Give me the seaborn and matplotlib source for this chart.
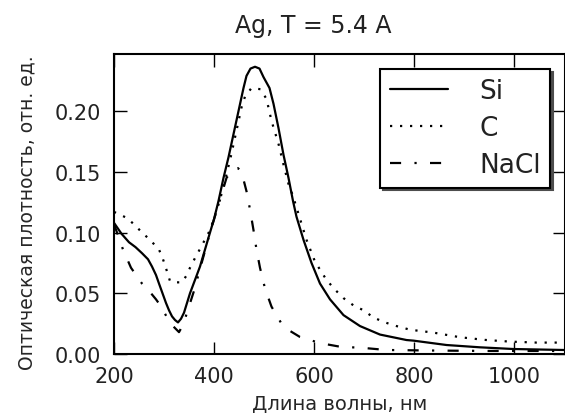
import matplotlib
matplotlib.use("Agg")
import pandas as pd
import matplotlib.pyplot as plt
import seaborn as sns

# absorption spectra (wavelength, nm / optical density)
wl_si = [200, 215, 230, 243, 256, 268, 276, 284, 290, 297, 304, 310, 316, 322,
         328, 334, 340, 346, 352, 362, 372, 382, 392, 400, 409, 419, 429, 439,
         449, 459, 465, 473, 482, 491, 499, 511, 519, 529, 539, 549, 558, 565,
         579, 595, 612, 632, 659, 692, 732, 785, 799, 865, 932, 999, 1100]
od_si = [0.108, 0.099, 0.092, 0.088, 0.083, 0.078, 0.072, 0.065, 0.058, 0.050,
         0.042, 0.036, 0.031, 0.028, 0.026, 0.029, 0.034, 0.042, 0.050, 0.061,
         0.072, 0.086, 0.100, 0.111, 0.126, 0.145, 0.162, 0.181, 0.200, 0.219,
         0.229, 0.235, 0.2365, 0.235, 0.228, 0.219, 0.206, 0.186, 0.164, 0.145,
         0.126, 0.113, 0.094, 0.075, 0.058, 0.045, 0.032, 0.023, 0.016, 0.0115,
         0.011, 0.0074, 0.0055, 0.0041, 0.0033]

wl_c = [200, 226, 242, 256, 272, 290, 298, 306, 312, 320, 336, 344, 352, 362,
        374, 392, 402, 412, 424, 435, 445, 455, 462, 475, 493, 505, 515, 529,
        539, 549, 558, 585, 602, 625, 642, 659, 679, 699, 719, 742, 765, 792,
        839, 892, 942, 992, 1045, 1100]
od_c = [0.117, 0.112, 0.106, 0.100, 0.094, 0.086, 0.078, 0.068, 0.060, 0.059,
        0.059, 0.064, 0.071, 0.079, 0.088, 0.102, 0.114, 0.127, 0.146, 0.165,
        0.184, 0.203, 0.212, 0.219, 0.218, 0.210, 0.192, 0.173, 0.156, 0.140,
        0.130, 0.094, 0.076, 0.061, 0.053, 0.046, 0.040, 0.036, 0.030, 0.026,
        0.023, 0.020, 0.0176, 0.0138, 0.0116, 0.0102, 0.0094, 0.0094]

wl_nacl = [200, 218, 234, 256, 270, 284, 296, 306, 318, 330, 338, 346, 360,
           372, 392, 412, 425, 438, 448, 455, 465, 472, 479, 485, 492, 502,
           515, 535, 552, 572, 612, 652, 699, 745, 850, 950, 1100]
od_nacl = [0.107, 0.086, 0.071, 0.058, 0.052, 0.045, 0.038, 0.030, 0.023,
           0.018, 0.024, 0.034, 0.052, 0.070, 0.100, 0.127, 0.145, 0.152,
           0.153, 0.150, 0.134, 0.119, 0.102, 0.086, 0.071, 0.054, 0.039,
           0.025, 0.019, 0.014, 0.009, 0.006, 0.005, 0.0033, 0.0028, 0.0025,
           0.0025]

series_names = ["Si", "C", "NaCl"]

sns.set_theme(style="ticks", rc={
    "xtick.direction": "in", "ytick.direction": "in",
    "xtick.top": True, "ytick.right": True,
    "axes.edgecolor": "black", "axes.linewidth": 1.5,
})
plt.rcParams["font.family"] = ["DejaVu Sans"]
plt.rcParams["text.color"] = "#222222"

fig = plt.figure(figsize=(5.65, 4.14), dpi=100)
ax = fig.add_axes([114 / 565, 1 - 355 / 414, 1 - 114 / 565, 300 / 414])

styles = {"Si": "-", "C": (0, (1, 3.5)), "NaCl": (0, (5, 6, 1, 6))}
data = {"Si": (wl_si, od_si), "C": (wl_c, od_c), "NaCl": (wl_nacl, od_nacl)}

for name in series_names:
    wl, od = data[name]
    df = pd.DataFrame({"wl": wl, "od": od})
    sns.lineplot(data=df, x="wl", y="od", ax=ax, color="black", lw=1.6,
                 ls=styles[name], label=name, estimator=None, sort=False)

ax.set_xlim(200, 1102)
ax.set_ylim(0, 0.247)
ax.set_xticks([200, 400, 600, 800, 1000])
ax.set_yticks([0.0, 0.05, 0.10, 0.15, 0.20])
ax.set_yticklabels(["0.00", "0.05", "0.10", "0.15", "0.20"])
ax.tick_params(labelsize=15, length=9, width=1, pad=9, colors="black",
               labelcolor="#222222")

ax.set_xlabel("Длина волны, нм", fontsize=14)
ax.xaxis.set_label_coords(0.5, -0.133)
ax.set_ylabel("Оптическая плотность, отн. ед.", fontsize=13.5)
ax.yaxis.set_label_coords(-0.172, 0.473)

fig.text(313 / 565, 1 - 26 / 414, "Ag, T = 5.4 A", ha="center", va="center",
         fontsize=17)

handles, labels = ax.get_legend_handles_labels()
leg = ax.legend(handles, labels, loc="upper right", bbox_to_anchor=(0.967, 0.95),
                fontsize=19, frameon=True, fancybox=False,
                shadow={"color": "0.3", "alpha": 1}, edgecolor="black",
                framealpha=1, handlelength=2.2, handletextpad=1.2,
                borderpad=0.35, labelspacing=0.42, borderaxespad=0)
leg.get_frame().set_linewidth(1.5)

fig.savefig("out.png", dpi=100, facecolor="white")
